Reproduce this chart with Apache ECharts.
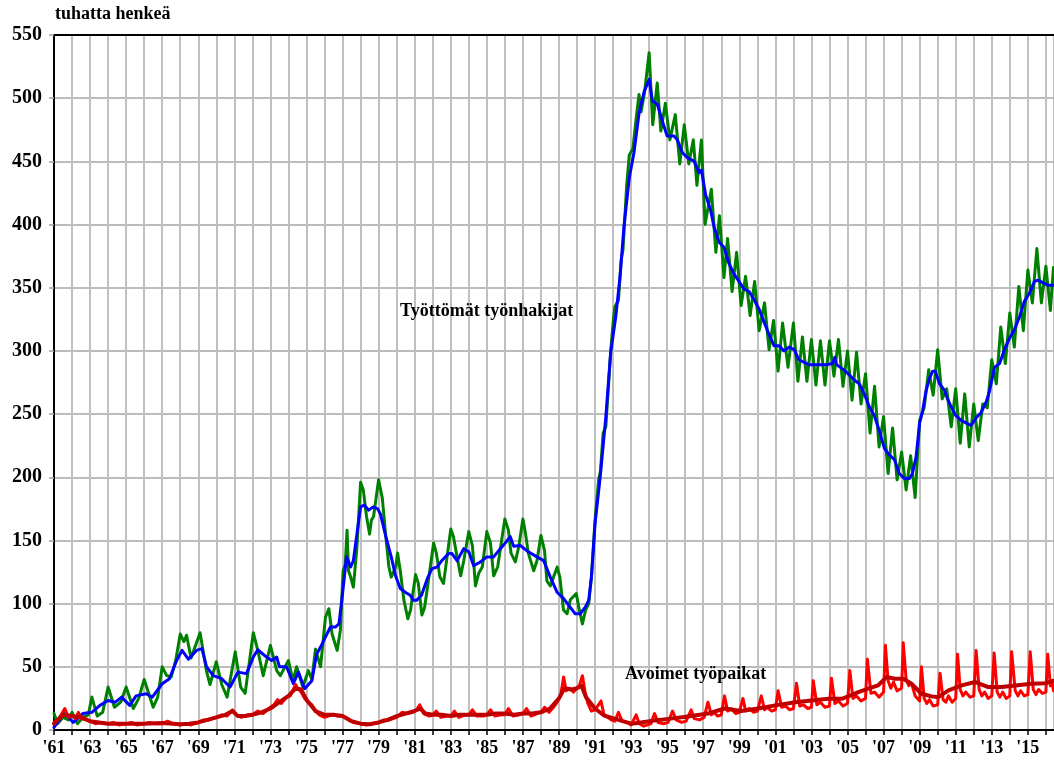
<!DOCTYPE html>
<html>
<head>
<meta charset="utf-8">
<script src="https://cdn.jsdelivr.net/npm/echarts@6/dist/echarts.min.js"></script>
<style>
html,body{margin:0;padding:0;background:#fff;}
#chart{width:1054px;height:760px;}
</style>
</head>
<body>
<div id="chart"></div>
<script>
// Työttömät työnhakijat (monthly, approx. peaks/troughs) [year, thousands]
var unemployed = [
[1961.0,13],[1961.2,5],[1961.5,10],[1961.8,8],[1962.0,14],[1962.3,5],[1962.6,10],[1962.9,12],
[1963.1,26],[1963.4,11],[1963.7,14],[1964.0,34],[1964.35,18],[1964.7,22],[1965.0,34],[1965.4,17],
[1965.7,25],[1966.0,40],[1966.5,18],[1966.75,26],[1967.0,50],[1967.25,43],[1967.5,42],[1967.75,55],
[1968.0,76],[1968.2,70],[1968.35,75],[1968.6,57],[1969.1,77],[1969.45,47],[1969.65,36],[1970.0,54],
[1970.3,36],[1970.6,26],[1971.05,62],[1971.35,34],[1971.6,29],[1972.05,77],[1972.3,63],[1972.6,43],
[1973.0,67],[1973.35,47],[1973.55,43],[1974.0,55],[1974.25,39],[1974.45,50],[1974.8,34],[1975.1,47],
[1975.3,40],[1975.5,64],[1975.78,50],[1976.05,89],[1976.24,96],[1976.42,76],[1976.7,63],[1976.88,79],
[1977.03,126],[1977.15,131],[1977.25,158],[1977.33,126],[1977.45,121],[1977.6,113],[1977.8,145],
[1978.0,196],[1978.15,190],[1978.33,169],[1978.5,155],[1978.6,166],[1978.72,169],[1979.0,198],
[1979.2,184],[1979.4,153],[1979.57,129],[1979.7,121],[1979.95,129],[1980.05,140],[1980.2,126],
[1980.4,103],[1980.62,88],[1980.77,95],[1981.05,123],[1981.2,116],[1981.4,91],[1981.55,97],
[1981.7,112],[1982.05,148],[1982.2,140],[1982.4,121],[1982.6,116],[1983.0,159],[1983.15,153],
[1983.35,137],[1983.55,122],[1983.72,134],[1984.0,157],[1984.2,146],[1984.37,114],[1984.55,124],
[1984.75,129],[1985.0,157],[1985.2,148],[1985.38,122],[1985.6,129],[1986.0,167],[1986.2,158],
[1986.34,140],[1986.58,133],[1986.77,145],[1987.0,167],[1987.15,155],[1987.3,140],[1987.6,126],
[1987.78,134],[1988.0,154],[1988.2,142],[1988.33,118],[1988.52,114],[1988.7,121],[1988.9,129],
[1989.05,121],[1989.25,95],[1989.45,92],[1989.63,103],[1989.96,108],[1990.1,97],[1990.3,84],
[1990.48,95],[1990.65,100],[1990.8,121],[1991.0,166],[1991.2,198],[1991.3,205],[1991.45,235],
[1991.6,240],[1991.87,300],[1992.0,322],[1992.1,335],[1992.3,340],[1992.45,372],[1992.55,380],
[1992.75,430],[1992.9,455],[1993.1,460],[1993.25,480],[1993.44,503],[1993.55,489],[1993.75,505],
[1994.0,536],[1994.2,479],[1994.45,512],[1994.65,474],[1994.9,496],[1995.15,467],[1995.45,487],
[1995.7,448],[1995.95,479],[1996.2,448],[1996.45,467],[1996.65,431],[1996.9,467],[1997.1,400],
[1997.45,428],[1997.7,378],[1997.9,407],[1998.15,358],[1998.35,389],[1998.6,347],[1998.85,378],
[1999.1,336],[1999.35,359],[1999.6,328],[1999.85,355],[2000.1,316],[2000.4,338],[2000.65,301],
[2000.9,324],[2001.15,284],[2001.4,322],[2001.7,287],[2002.0,322],[2002.25,276],[2002.5,311],
[2002.75,276],[2003.0,309],[2003.25,273],[2003.5,308],[2003.75,273],[2004.0,308],[2004.25,280],
[2004.5,309],[2004.75,272],[2005.0,300],[2005.25,261],[2005.5,299],[2005.75,258],[2006.0,282],
[2006.25,235],[2006.5,272],[2006.75,224],[2007.0,248],[2007.25,203],[2007.5,239],[2007.75,198],
[2008.0,220],[2008.25,190],[2008.5,217],[2008.75,184],[2009.0,245],[2009.25,255],[2009.5,285],
[2009.75,265],[2010.0,301],[2010.25,262],[2010.5,270],[2010.75,240],[2011.0,270],[2011.25,227],
[2011.5,266],[2011.75,224],[2012.0,258],[2012.25,229],[2012.5,258],[2012.75,255],[2013.0,293],
[2013.25,274],[2013.5,319],[2013.75,290],[2014.0,330],[2014.25,303],[2014.5,351],[2014.75,316],
[2015.0,364],[2015.25,338],[2015.5,381],[2015.75,338],[2016.0,367],[2016.25,332],[2016.42,366]
];
// Työttömät työnhakijat, trend
var unemployedTrend = [
[1961.0,2],[1961.4,10],[1961.6,13],[1962.07,6],[1962.6,13],[1963.1,14],[1963.55,19.5],[1964.0,23.4],
[1964.4,22],[1964.75,26],[1965.2,19.5],[1965.55,27],[1966.1,28.7],[1966.45,26],[1967.0,36.6],
[1967.4,40.6],[1967.8,55],[1968.1,63],[1968.45,56],[1968.9,63],[1969.2,64.4],[1969.46,50],
[1969.83,43],[1970.3,40.6],[1970.76,34],[1971.2,45.8],[1971.67,44.6],[1972.05,57.7],[1972.3,63.5],
[1972.67,59],[1973.07,55],[1973.35,57.7],[1973.5,50],[1973.9,50],[1974.27,36.6],[1974.55,45.8],
[1974.9,32.7],[1975.3,39],[1975.56,60],[1975.78,65.6],[1976.05,73.5],[1976.33,81.5],[1976.6,81.5],
[1976.8,84],[1977.0,108],[1977.22,137],[1977.45,129],[1977.6,134],[1977.8,155.5],[1978.0,176.6],
[1978.2,178],[1978.45,174],[1978.7,176.6],[1978.95,175],[1979.1,171],[1979.4,153],[1979.7,137],
[1979.93,122.5],[1980.2,112],[1980.48,109],[1980.75,106.6],[1980.93,102.6],[1981.1,102.6],
[1981.38,106.6],[1981.7,119.8],[1981.96,127.7],[1982.25,129],[1982.5,134],[1982.88,139.6],
[1983.07,139.6],[1983.35,134],[1983.72,143.5],[1984.0,141],[1984.27,130],[1984.65,133],[1985.0,137],
[1985.38,137],[1985.75,143.5],[1986.0,147.6],[1986.3,153],[1986.49,145.5],[1986.86,146],[1987.3,141],
[1987.78,137],[1988.15,134],[1988.52,121],[1988.9,109],[1989.26,104],[1989.63,97],[1989.9,92],
[1990.18,92],[1990.45,97],[1990.65,102.6],[1990.8,121],[1991.0,163],[1991.3,202],[1991.6,248],
[1991.87,299],[1992.15,327],[1992.4,361],[1992.6,398],[1992.9,437],[1993.16,457],[1993.44,488],
[1993.72,505],[1994.0,515],[1994.18,498],[1994.46,495],[1994.73,482],[1995.0,470],[1995.38,470],
[1995.56,467],[1995.84,457],[1996.12,453],[1996.5,450],[1996.77,441],[1996.9,443],[1997.14,423],
[1997.4,412],[1997.6,398],[1997.88,386],[1998.15,382],[1998.43,369],[1998.7,361],[1998.98,355],
[1999.26,349],[1999.54,347],[1999.8,341],[2000.1,333],[2000.37,323],[2000.65,313],[2000.93,304],
[2001.2,304],[2001.48,300],[2001.76,303],[2002.04,301],[2002.3,293],[2002.6,291],[2002.87,289],
[2003.33,289],[2003.8,289],[2004.17,290],[2004.3,295],[2004.4,289],[2004.8,285],[2005.1,281],
[2005.37,277],[2005.65,274],[2005.93,266],[2006.2,256],[2006.48,249],[2006.76,237],[2007.04,223],
[2007.3,218],[2007.6,214],[2007.87,203],[2008.15,199],[2008.43,199],[2008.6,203],[2008.8,216],
[2009.0,243],[2009.17,253],[2009.35,268],[2009.54,278],[2009.72,284],[2009.87,284],[2010.1,274],
[2010.37,269],[2010.55,262],[2010.74,256],[2011.0,249],[2011.3,245],[2011.57,243],[2011.85,241],
[2012.13,247],[2012.4,251],[2012.7,260],[2012.87,268],[2013.15,287],[2013.43,290],[2013.7,301],
[2013.98,310],[2014.26,317],[2014.54,327],[2014.8,339],[2015.1,346],[2015.37,355],[2015.56,356],
[2015.83,354],[2016.1,352],[2016.42,352]
];
// Avoimet työpaikat (monthly, approx.)
var vacancies = [
[1961.0,6],[1961.2,8],[1961.4,12],[1961.6,17],[1961.8,10],[1962.0,11],[1962.2,9],[1962.35,14],
[1962.5,9],[1962.8,8],[1963.0,7],[1963.3,5],[1963.6,6],[1964.0,5],[1964.3,6],[1964.6,4],[1965.0,5],
[1965.3,6],[1965.6,4],[1966.0,5],[1966.3,6],[1966.6,5],[1967.0,5],[1967.3,7],[1967.6,5],[1968.0,4],
[1968.3,5],[1968.6,4],[1969.0,6],[1969.3,8],[1969.6,8],[1970.0,10],[1970.3,12],[1970.6,11],
[1970.9,16],[1971.1,12],[1971.4,10],[1971.7,12],[1972.0,12],[1972.3,15],[1972.6,13],[1972.9,17],
[1973.2,20],[1973.4,24],[1973.6,21],[1973.9,26],[1974.1,27],[1974.4,36],[1974.5,33],[1974.7,30],
[1974.9,25],[1975.1,22],[1975.3,20],[1975.5,15],[1975.7,12],[1976.0,10],[1976.2,11],[1976.5,12],
[1976.7,11],[1977.0,11],[1977.3,9],[1977.6,6],[1978.0,5],[1978.3,4],[1978.6,5],[1979.0,6],[1979.3,8],
[1979.6,8],[1980.0,10],[1980.3,14],[1980.6,13],[1980.9,14],[1981.1,16],[1981.28,20],[1981.5,13],
[1981.8,11],[1982.0,12],[1982.2,15],[1982.45,10],[1982.8,11],[1983.0,11],[1983.2,15],[1983.45,10],
[1983.8,12],[1984.0,12],[1984.2,16],[1984.45,11],[1984.8,11],[1985.0,12],[1985.2,16],[1985.45,11],
[1985.8,12],[1986.0,12],[1986.2,17],[1986.45,11],[1986.8,12],[1987.0,13],[1987.2,17],[1987.45,11],
[1987.8,13],[1988.0,14],[1988.2,18],[1988.45,14],[1988.7,18],[1988.9,22],[1989.1,28],[1989.26,42],
[1989.4,31],[1989.6,33],[1989.8,30],[1990.0,33],[1990.15,36],[1990.3,43],[1990.45,30],[1990.6,21],
[1990.8,15],[1991.0,16],[1991.2,20],[1991.33,23],[1991.5,12],[1991.7,10],[1991.9,8],
[1992.1,7],[1992.3,14],[1992.5,7],[1992.8,6],[1993.0,4],[1993.28,12],[1993.45,5],[1993.7,3],
[1993.9,4],[1994.1,5],[1994.3,13],[1994.5,6],[1994.8,5],[1995.05,6],[1995.3,15],[1995.5,8],
[1995.8,6],[1996.05,7],[1996.33,16],[1996.5,9],[1996.8,8],[1997.05,10],[1997.26,22],[1997.45,12],
[1997.6,14],[1997.8,11],[1998.0,12],[1998.18,27],[1998.35,15],[1998.55,17],[1998.8,13],[1999.0,14],
[1999.2,25],[1999.35,15],[1999.55,17],[1999.8,14],[2000.0,15],[2000.22,27],[2000.4,16],[2000.55,18],
[2000.8,15],[2001.0,16],[2001.15,31],[2001.35,18],[2001.55,19],[2001.8,16],[2002.0,17],[2002.17,37],
[2002.35,19],[2002.55,20],[2002.8,17],[2003.0,18],[2003.1,39],[2003.3,20],[2003.5,22],[2003.75,18],
[2004.0,19],[2004.11,41],[2004.3,21],[2004.5,23],[2004.75,19],[2005.0,21],[2005.13,47],[2005.3,25],
[2005.5,27],[2005.75,23],[2006.0,25],[2006.1,56],[2006.3,29],[2006.5,30],[2006.75,26],[2007.0,30],
[2007.1,67],[2007.25,39],[2007.4,33],[2007.55,38],[2007.75,31],[2008.0,33],[2008.09,69],[2008.25,40],
[2008.4,35],[2008.55,37],[2008.75,27],[2009.0,23],[2009.1,50],[2009.25,25],[2009.4,21],[2009.55,24],
[2009.75,19],[2010.0,20],[2010.13,45],[2010.3,24],[2010.45,22],[2010.6,27],[2010.8,22],[2011.0,25],
[2011.1,60],[2011.25,32],[2011.4,27],[2011.55,30],[2011.8,26],[2012.0,27],[2012.13,63],[2012.3,32],
[2012.45,27],[2012.6,30],[2012.8,25],[2013.0,27],[2013.13,61],[2013.3,30],[2013.45,26],[2013.6,30],
[2013.8,25],[2014.0,27],[2014.1,62],[2014.3,31],[2014.45,27],[2014.6,31],[2014.8,27],[2015.0,28],
[2015.13,62],[2015.3,32],[2015.45,28],[2015.6,32],[2015.8,29],[2016.0,30],[2016.1,60],[2016.25,35],
[2016.35,38],[2016.42,31]
];
// Avoimet työpaikat, trend
var vacanciesTrend = [
[1961.0,5],[1961.5,12],[1962.0,11],[1962.5,10],[1963.0,7],[1963.5,6],[1964.0,5],[1965.0,5],[1966.0,5],
[1967.0,5.5],[1968.0,4.5],[1968.5,5],[1969.0,6],[1969.5,8],[1970.0,10],[1970.5,12],[1970.9,15],
[1971.2,11],[1971.6,11],[1972.0,12],[1972.5,14],[1973.0,17],[1973.5,22],[1974.0,27],[1974.4,33],
[1974.7,32],[1975.0,24],[1975.5,15],[1976.0,12],[1976.5,12],[1977.0,11],[1977.5,7],[1978.0,5],
[1978.5,4.5],[1979.0,6],[1979.5,8],[1980.0,11],[1980.5,13],[1981.0,15],[1981.3,17],[1981.6,13],
[1982.0,12],[1982.5,12],[1983.0,11],[1983.5,12],[1984.0,12],[1984.5,12],[1985.0,12],[1985.5,13],
[1986.0,13],[1986.5,12],[1987.0,13],[1987.5,13],[1988.0,14],[1988.5,17],[1989.0,25],[1989.3,33],
[1989.7,32],[1990.0,33],[1990.25,35],[1990.5,26],[1991.0,17],[1991.5,11.5],[1992.07,9],[1993.0,5],
[1993.55,6],[1994.3,7.6],[1995.2,9],[1996.15,10.7],[1997.26,13],[1998.18,17],[1999.1,15],[2000.04,17],
[2001.0,19.5],[2002.1,22],[2003.0,23.4],[2003.93,24.7],[2004.67,24.7],[2005.04,26.6],[2005.6,30],
[2006.15,32.7],[2006.7,35.3],[2007.17,42],[2007.63,40.6],[2008.1,40.6],[2008.55,36.6],[2009.1,28.7],
[2009.67,26.6],[2010.04,26],[2010.6,31.4],[2011.33,35.3],[2012.07,38],[2012.8,34],[2013.55,34],
[2014.3,35.3],[2015.22,36.6],[2015.96,37],[2016.42,39]
];
var yTicks = [0,50,100,150,200,250,300,350,400,450,500,550];

var FONT = '"Liberation Serif","Times New Roman",serif';
var chart = echarts.init(document.getElementById('chart'), null, {renderer:'canvas'});
function line(name, data, color, width, z){
  return {name:name, type:'line', data:data, showSymbol:false, symbol:'none', smooth:false,
    animation:false, z:z, lineStyle:{color:color, width:width, join:'round', cap:'round'}};
}
chart.setOption({
  animation:false,
  backgroundColor:'#ffffff',
  grid:{left:54, right:0, top:35, bottom:30, containLabel:false},
  xAxis:[{
    type:'value', min:1961, max:2016.45, interval:1,
    axisLine:{show:true, onZero:false, lineStyle:{color:'#000', width:2}},
    axisTick:{show:true, length:5, lineStyle:{color:'#000', width:1.5}},
    axisLabel:{margin:9, color:'#000', fontFamily:FONT, fontWeight:'bold', fontSize:18,
      showMaxLabel:false,
      formatter:function(v){ if(Math.abs(v-Math.round(v))>1e-6) return ''; v=Math.round(v);
        return ((v-1961)%2===0) ? "'"+String(v).slice(2) : ''; }},
    splitLine:{show:true, lineStyle:{color:'#c0c0c0', width:2}}
  },{
    type:'value', position:'top', min:1961, max:2016.45,
    axisLine:{show:true, onZero:false, lineStyle:{color:'#000', width:2}},
    axisTick:{show:false}, axisLabel:{show:false}, splitLine:{show:false}
  }],
  yAxis:{
    type:'value', min:yTicks[0], max:yTicks[yTicks.length-1], interval:50,
    axisLine:{show:true, lineStyle:{color:'#000', width:2}},
    axisTick:{show:true, length:5, lineStyle:{color:'#a0a0a0', width:1.5}},
    axisLabel:{margin:12, color:'#000', fontFamily:FONT, fontWeight:'bold', fontSize:20},
    splitLine:{show:true, lineStyle:{color:'#a6a6a6', width:1.5}}
  },
  series:[
    line('Työttömät työnhakijat', unemployed, '#008000', 3, 2),
    line('Työttömät työnhakijat, trendi', unemployedTrend, '#0000ff', 3, 3),
    line('Avoimet työpaikat', vacancies, '#ff0000', 3, 4),
    line('Avoimet työpaikat, trendi', vacanciesTrend, '#c00000', 4, 5)
  ],
  graphic:[
    {type:'text', z:100, left:55, top:5, style:{text:'tuhatta henkeä', font:'bold 18px '+FONT, fill:'#000'}},
    {type:'text', z:100, left:400, top:302, style:{text:'Työttömät työnhakijat', font:'bold 18px '+FONT, fill:'#000'}},
    {type:'text', z:100, left:625, top:665, style:{text:'Avoimet työpaikat', font:'bold 18px '+FONT, fill:'#000'}}
  ]
});
</script>
</body>
</html>
